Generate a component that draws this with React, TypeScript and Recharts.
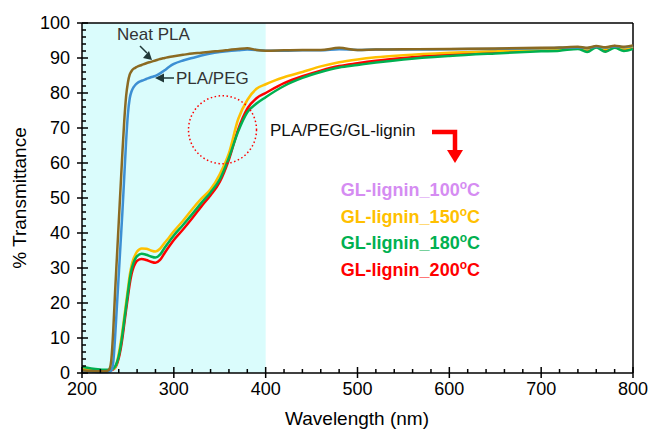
import { Line, LineChart, ReferenceArea, ReferenceDot, ReferenceLine, XAxis, YAxis } from 'recharts';

const wavelengths = [
  200, 210, 220, 225, 228, 230, 232, 234, 236, 238, 240, 242, 244, 246, 248, 250, 252, 254, 256, 258,
  260, 265, 270, 275, 280, 285, 290, 295, 300, 310, 320, 330, 340, 350, 360, 370, 380, 390, 400, 420,
  440, 460, 480, 500, 520, 550, 600, 650, 700, 720, 740, 750, 760, 770, 780, 790, 800,
];

const neatPla = [
  0.8, 0.6, 0.5, 0.5, 0.7, 1.2, 4, 12, 23, 33, 43, 53, 63, 72, 79, 83, 85.3, 86.3, 86.9, 87.2,
  87.5, 88.0, 88.5, 88.9, 89.3, 89.7, 90.0, 90.3, 90.5, 90.9, 91.3, 91.5, 91.8, 92.0, 92.3, 92.6, 92.8, 92.3, 92.1, 92.2,
  92.3, 92.3, 92.9, 92.3, 92.4, 92.5, 92.6, 92.7, 92.9, 93.0, 93.2, 92.9, 93.4, 93.1, 93.5, 93.2, 93.6,
];

const plaPeg = [
  0.5, 0.4, 0.3, 0.3, 0.3, 0.4, 0.8, 3, 10, 19, 28, 37, 46, 56, 66, 74, 78.5, 80.5, 81.6, 82.3,
  82.8, 83.5, 84.0, 84.5, 84.9, 85.6, 86.5, 87.5, 88.3, 89.3, 90.0, 90.7, 91.3, 91.7, 92.0, 92.2, 92.4, 92.3, 92.1, 92.1,
  92.2, 92.2, 92.5, 92.3, 92.4, 92.4, 92.5, 92.6, 92.8, 92.9, 93.0, 92.8, 93.2, 93.0, 93.3, 93.1, 93.4,
];

const lignin150 = [
  1.3, 1.0, 0.8, 0.7, 0.7, 0.8, 1.0, 1.2, 1.5, 3, 5.5, 8.5, 12, 16, 20, 24, 28, 30.8, 32.6, 33.8,
  34.7, 35.6, 35.5, 35.0, 34.7, 35.5, 37.2, 38.8, 40.5, 43.5, 46.8, 49.8, 52.5, 56.8, 62.8, 72.5, 78, 81.2, 82.5, 84.5,
  86.0, 87.6, 88.8, 89.6, 90.2, 90.8, 91.5, 92.0, 92.4, 92.6, 92.8, 92.4, 93.1, 92.6, 93.2, 92.7, 93.3,
];

const lignin180 = [
  1.8, 1.3, 1.0, 0.9, 0.9, 1.0, 1.1, 1.3, 1.8, 3, 4.8, 7.5, 11, 15, 19, 23, 26.8, 29.6, 31.4, 32.6,
  33.4, 34.1, 33.8, 33.3, 33.0, 33.8, 35.8, 37.6, 39.3, 42.3, 45.4, 48.6, 51.6, 55.3, 61.5, 69, 74.5, 77, 78.8, 82,
  84.3, 86, 87.3, 88, 88.7, 89.6, 90.6, 91.3, 91.9, 92.1, 92.6, 91.7, 93.0, 91.8, 92.9, 92.0, 92.6,
];

const lignin200 = [
  1.0, 0.7, 0.5, 0.5, 0.5, 0.6, 0.8, 1.0, 1.5, 2.5, 4.2, 6.7, 10, 14, 18, 21.8, 25.5, 28.3, 30.1, 31.3,
  32.1, 32.6, 32.3, 31.8, 31.5, 32.3, 34.3, 36.2, 38, 41, 44.2, 47.6, 50.8, 54.6, 61, 69.5, 75.5, 78.5, 80, 82.8,
  84.8, 86.4, 87.7, 88.5, 89.2, 90, 91, 91.6, 92.2, 92.4, 92.9, 92.1, 93.3, 91.9, 93.4, 92.3, 93.0,
];

const xMajorTicks = [200, 300, 400, 500, 600, 700, 800];
const xTicks = Array.from({ length: 31 }, (_, i) => 200 + i * 20);
const yMajorTicks = [0, 10, 20, 30, 40, 50, 60, 70, 80, 90, 100];
const yTicks = Array.from({ length: 51 }, (_, i) => i * 2);

const legendItems = [
  { label: 'GL-lignin_100', color: '#d58cf2' },
  { label: 'GL-lignin_150', color: '#ffc000' },
  { label: 'GL-lignin_180', color: '#00b050' },
  { label: 'GL-lignin_200', color: '#ff0000' },
];

// highlighted region (dotted circle) in data units
const circleX = 353;
const circleY = 69.5;

const data = wavelengths.map((w, i) => ({
  w,
  neat: neatPla[i],
  peg: plaPeg[i],
  l150: lignin150[i],
  l180: lignin180[i],
  l200: lignin200[i],
}));

const font = '"Liberation Sans", Arial, sans-serif';

function XTick({ x, y, payload }: any) {
  const major = xMajorTicks.includes(payload.value);
  return (
    <g>
      <line x1={x} x2={x} y1={y - (major ? 6 : 4)} y2={major ? y + 5 : y} stroke="#000" strokeWidth={1.5} />
      {major && (
        <text x={x} y={y + 22} textAnchor="middle" fontSize={18} fontFamily={font} fill="#000">
          {payload.value}
        </text>
      )}
    </g>
  );
}

function YTick({ x, y, payload }: any) {
  const major = yMajorTicks.includes(payload.value);
  return (
    <g>
      <line x1={major ? x - 5 : x} x2={x + (major ? 6 : 4)} y1={y} y2={y} stroke="#000" strokeWidth={1.5} />
      {major && (
        <text x={x - 12} y={y + 6} textAnchor="end" fontSize={18} fontFamily={font} fill="#000">
          {payload.value}
        </text>
      )}
    </g>
  );
}

export default function App() {
  return (
    <div style={{ position: 'absolute', left: 0, top: 0, width: 649, height: 431, background: '#fff', fontFamily: font }}>
      <LineChart width={649} height={431} data={data} margin={{ top: 23, right: 16, left: 0, bottom: 0 }}>
        <ReferenceArea x1={200} x2={400} y1={0} y2={100} fill="#dafcfc" fillOpacity={1} stroke="none" />
        <XAxis
          dataKey="w"
          type="number"
          domain={[200, 800]}
          ticks={xTicks}
          interval={0}
          height={58}
          tickSize={0}
          tickMargin={0}
          tick={(p: any) => <XTick {...p} />}
          axisLine={{ stroke: '#000', strokeWidth: 1.5 }}
          tickLine={false}
        />
        <YAxis
          type="number"
          domain={[0, 100]}
          ticks={yTicks}
          interval={0}
          width={82}
          tickSize={0}
          tickMargin={0}
          tick={(p: any) => <YTick {...p} />}
          axisLine={{ stroke: '#000', strokeWidth: 1.5 }}
          tickLine={false}
        />
        <ReferenceLine y={100} stroke="#000" strokeWidth={1.5} />
        <ReferenceLine x={800} stroke="#000" strokeWidth={1.5} />
        <Line dataKey="l200" stroke="#ff0000" strokeWidth={2.5} dot={false} type="monotone" isAnimationActive={false} />
        <Line dataKey="l150" stroke="#ffc000" strokeWidth={2.5} dot={false} type="monotone" isAnimationActive={false} />
        <Line dataKey="l180" stroke="#00b050" strokeWidth={2.5} dot={false} type="monotone" isAnimationActive={false} />
        <Line dataKey="peg" stroke="#3d8fd3" strokeWidth={2.5} dot={false} type="monotone" isAnimationActive={false} />
        <Line dataKey="neat" stroke="#8b6a22" strokeWidth={2.5} dot={false} type="monotone" isAnimationActive={false} />
        <ReferenceDot
          x={circleX}
          y={circleY}
          r={34}
          fill="none"
          stroke="#ff0000"
          strokeWidth={1.5}
          strokeDasharray="1.5 2.5"
        />
      </LineChart>
      <svg width={649} height={431} style={{ position: 'absolute', left: 0, top: 0, pointerEvents: 'none' }}>
        <text x={19} y={198} transform="rotate(-90 19 198)" textAnchor="middle" dominantBaseline="central" fontSize={19} fill="#000">
          % Transmittance
        </text>
        <text x={357} y={425} textAnchor="middle" fontSize={19} fill="#000">
          Wavelength (nm)
        </text>

        <text x={117} y={40} fontSize={17} fill="#333">Neat PLA</text>
        <line x1={140} y1={46} x2={147} y2={53} stroke="#203838" strokeWidth={1.5} />
        <polygon points="152,60 143,58 149,51" fill="#203838" />

        <text x={176} y={84} fontSize={17} fill="#333">PLA/PEG</text>
        <line x1={163} y1={78} x2={174} y2={78} stroke="#203838" strokeWidth={1.5} />
        <polygon points="155,78 164,73.5 164,82.5" fill="#203838" />

        <text x={270} y={136} fontSize={17} fill="#111">PLA/PEG/GL-lignin</text>
        <polyline points="432,132 455,132 455,151" fill="none" stroke="#ff0000" strokeWidth={4.5} />
        <polygon points="447,150 463,150 455,163" fill="#ff0000" />

        {legendItems.map((item, i) => (
          <text key={item.label} x={480} y={196 + i * 26.7} textAnchor="end" fontSize={18} fontWeight="bold" fill={item.color}>
            {item.label}
            <tspan fontSize={12} dy={-7}>o</tspan>
            <tspan dy={7}>C</tspan>
          </text>
        ))}
      </svg>
    </div>
  );
}
